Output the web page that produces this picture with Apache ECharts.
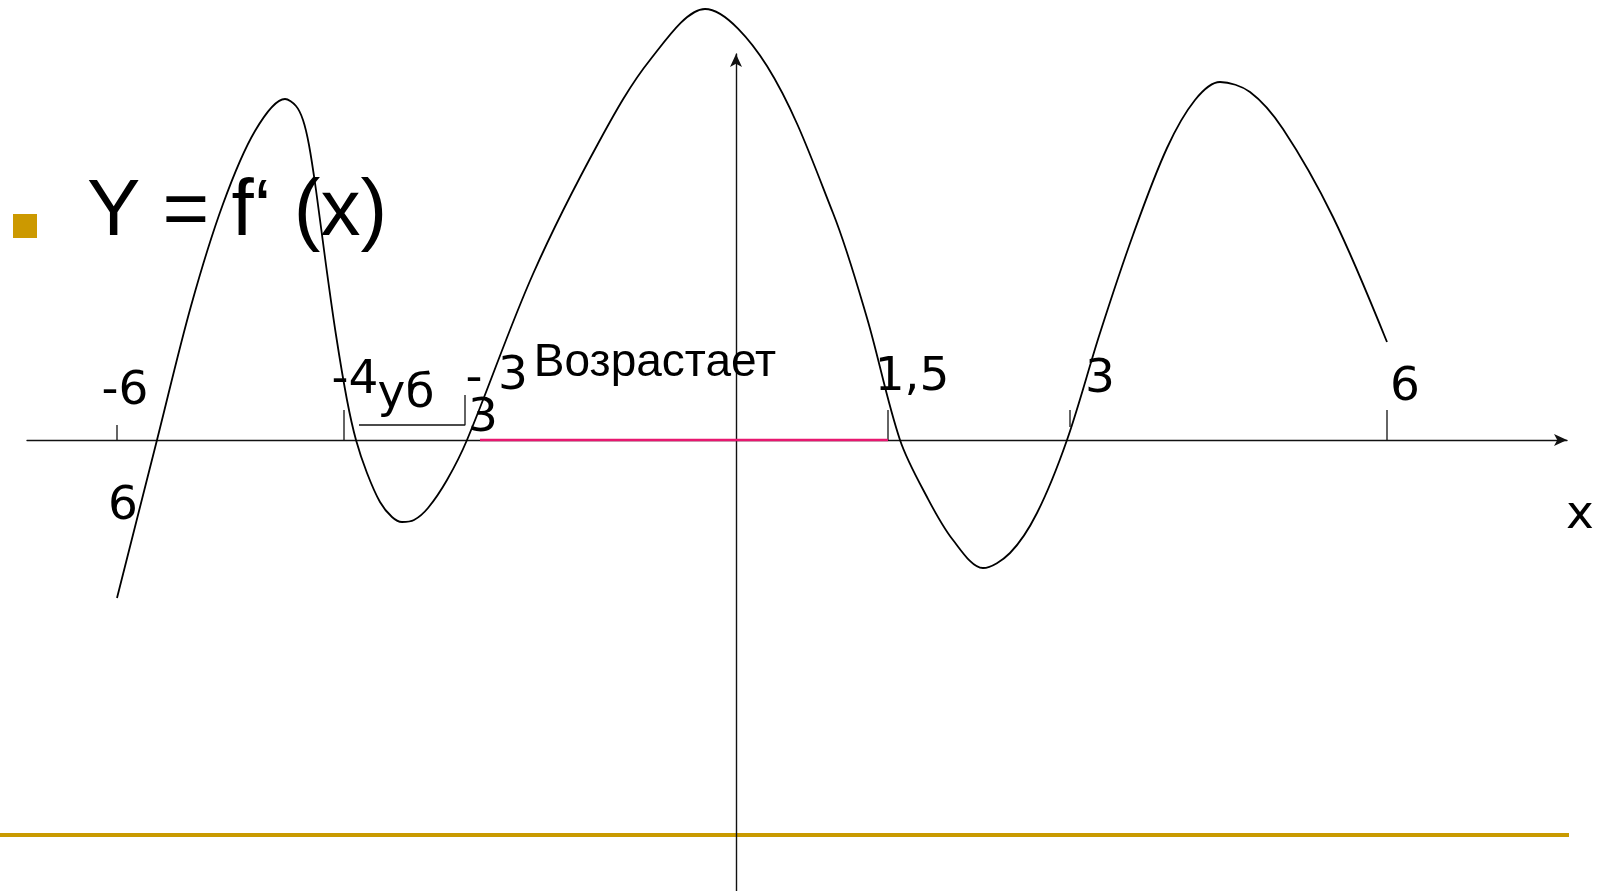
<!DOCTYPE html>
<html>
<head>
<meta charset="utf-8">
<script src="https://cdn.jsdelivr.net/npm/echarts@6/dist/echarts.min.js"></script>
<style>
  html, body { margin: 0; padding: 0; background: #fff; }
  #myChart { width: 1608px; height: 891px; }
</style>
</head>
<body>
<div id="myChart"></div>
<script>
// curve of f'(x) (drawing units, 0 at the axes crossing)
var curveX = [-619, -579, -545, -513, -481, -451,
  -440, -433, -427, -420, -410, -400, -389, -380, -369, -356, -344, -334, -322, -308, -289, -269,
  -203, -136, -86, -31, 31, 97, 131, 164,
  191, 217, 247, 274, 301, 331,
  364, 397, 431, 459, 484, 514, 547, 597, 651];
var curveY = [-158, 0, 134, 236, 309, 341,
  334, 320, 295, 250, 175, 105, 40, 0, -33, -62, -77, -82, -80, -68, -40, 0,
  166, 300, 380, 431, 374, 227, 122, 0,
  -57, -100, -128, -113, -73, 0,
  107, 205, 292, 340, 358, 348, 311, 223, 98];

// tick marks on the x axis
var tickX = [-619, -392, 152, 334, 651];
var tickFrom = [0, 0, 0, 13, 0];
var tickTo = [15, 30, 30, 30, 30];

// bracket over the "убывает" interval
var bracketX = [-271, -271, -377];
var bracketY = [45, 15, 15];

// "возрастает" interval (pink)
var riseX = [-256, 152];

// texts on the sketch
var numText = ['-6', '6', '-4', 'уб', '-', '3', '3', '1,5', '3', '6', 'x'];
var numX = [-611, -613, -381, -330, -262, -253, -223, 176, 364, 669, 844];
var numY = [48, -67, 59, 45, 60, 21, 63, 62, 60, 52, -76];
var wordText = ['Возрастает'];
var wordX = [-81];
var wordY = [77];

var myChart = echarts.init(document.getElementById('myChart'));

function pairs(xs, ys) {
  return xs.map(function (x, i) { return [x, ys[i]]; });
}
function labelData(txt, xs, ys) {
  return txt.map(function (t, i) { return { name: t, value: [xs[i], ys[i]] }; });
}

var tickSeries = tickX.map(function (x, i) {
  return {
    type: 'line', data: [[x, tickFrom[i]], [x, tickTo[i]]],
    showSymbol: false, silent: true, clip: false, z: 12,
    lineStyle: { color: '#111', width: 1.3 }
  };
});

var option = {
  backgroundColor: '#fff',
  animation: false,
  grid: { left: 27, right: 41, top: 54, bottom: 0 },
  xAxis: {
    type: 'value', min: -709, max: 831, z: 10,
    axisLine: { onZero: true, symbol: ['none', 'arrow'], symbolSize: [9, 13], lineStyle: { color: '#111', width: 1.4 } },
    axisTick: { show: false }, axisLabel: { show: false }, splitLine: { show: false }
  },
  yAxis: {
    type: 'value', min: -451, max: 386, z: 10,
    axisLine: { onZero: true, symbol: ['none', 'arrow'], symbolSize: [9, 13], lineStyle: { color: '#111', width: 1.4 } },
    axisTick: { show: false }, axisLabel: { show: false }, splitLine: { show: false }
  },
  graphic: [
    { type: 'rect', z: -5, shape: { x: 0, y: 833, width: 1569, height: 4 }, style: { fill: '#c99a00' } },
    { type: 'rect', shape: { x: 13, y: 214, width: 24, height: 24 }, style: { fill: '#cc9900' } },
    { type: 'text', style: { text: 'Y = f‘ (x)', x: 87, y: 213, fill: '#000', textVerticalAlign: 'middle',
      font: '80px "Liberation Sans", Arial, sans-serif' } }
  ],
  series: [
    {
      name: 'rise', type: 'line', data: riseX.map(function (x) { return [x, 0]; }),
      showSymbol: false, silent: true, clip: false, z: 20,
      lineStyle: { color: '#e8176f', width: 2.5 }
    },
    {
      name: 'bracket', type: 'line', data: pairs(bracketX, bracketY),
      showSymbol: false, silent: true, clip: false, z: 12,
      lineStyle: { color: '#111', width: 1.3 }
    },
    {
      name: "f'(x)", type: 'line', data: pairs(curveX, curveY),
      smooth: 0.33, showSymbol: false, silent: true, clip: false, z: 25,
      lineStyle: { color: '#000', width: 1.8 }
    },
    {
      name: 'nums', type: 'scatter', data: labelData(numText, numX, numY),
      symbolSize: 0, clip: false, silent: true, z: 30, itemStyle: { opacity: 1 },
      label: { show: true, position: 'inside', formatter: '{b}', color: '#000', textBorderWidth: 0,
        fontFamily: '"DejaVu Sans", Verdana, sans-serif', fontSize: 47 }
    },
    {
      name: 'words', type: 'scatter', data: labelData(wordText, wordX, wordY),
      symbolSize: 0, clip: false, silent: true, z: 30, itemStyle: { opacity: 1 },
      label: { show: true, position: 'inside', formatter: '{b}', color: '#000', textBorderWidth: 0,
        fontFamily: '"Liberation Sans", Arial, sans-serif', fontSize: 46 }
    }
  ].concat(tickSeries)
};
myChart.setOption(option);
</script>
</body>
</html>
